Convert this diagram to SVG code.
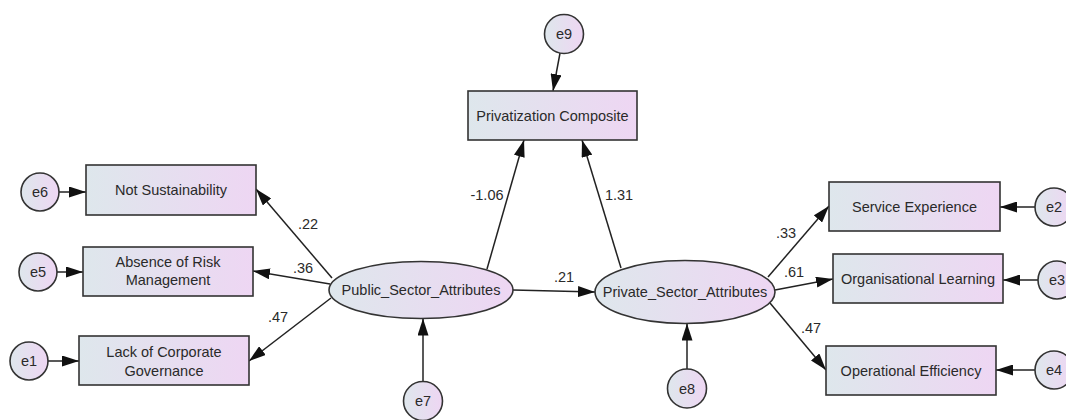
<svg xmlns="http://www.w3.org/2000/svg" width="1066" height="420" viewBox="0 0 1066 420">
<defs>
<linearGradient id="g" x1="0" y1="0" x2="1" y2="0">
<stop offset="0" stop-color="#dee7ec"/>
<stop offset="1" stop-color="#eed6f3"/>
</linearGradient>
<marker id="ah" viewBox="0 0 17 11" refX="17" refY="5.5" markerWidth="17" markerHeight="11" markerUnits="userSpaceOnUse" orient="auto">
<path d="M0,0 L17,5.5 L0,11 Z" fill="#111"/>
</marker>
</defs>
<style>
.n{fill:url(#g);stroke:#333;stroke-width:1.6}
.t{font-family:"Liberation Sans",Arial,sans-serif;font-size:14.5px;fill:#2a2a2a;text-anchor:middle}
.c line{stroke:#222;stroke-width:1.5;marker-end:url(#ah)}
</style>
<rect width="1066" height="420" fill="#fff"/>
<g class="c" id="connectors">
<line x1="59" y1="192" x2="86" y2="192"/>
<line x1="57" y1="272" x2="83" y2="272"/>
<line x1="48" y1="361" x2="79" y2="361"/>
<line x1="560" y1="53" x2="553" y2="91"/>
<line x1="423" y1="381" x2="423" y2="318.5"/>
<line x1="687" y1="369" x2="687" y2="323.5"/>
<line x1="1035" y1="207" x2="1000" y2="207"/>
<line x1="1038" y1="280" x2="1003" y2="280"/>
<line x1="1035" y1="370" x2="996" y2="370"/>
<line x1="332" y1="278" x2="256" y2="189"/>
<line x1="330" y1="284" x2="253" y2="271"/>
<line x1="331" y1="298" x2="249" y2="361"/>
<line x1="487" y1="269" x2="524" y2="140"/>
<line x1="621" y1="268" x2="582" y2="140"/>
<line x1="513" y1="290" x2="595" y2="292"/>
<line x1="768" y1="277" x2="829" y2="206"/>
<line x1="775" y1="290" x2="833" y2="279"/>
<line x1="770" y1="303" x2="826" y2="370"/>
</g>
<g id="labels" class="t">
<text x="308" y="229">.22</text>
<text x="303" y="273">.36</text>
<text x="278" y="322">.47</text>
<text x="487" y="200">-1.06</text>
<text x="619" y="200">1.31</text>
<text x="564" y="282">.21</text>
<text x="786" y="238">.33</text>
<text x="794" y="277">.61</text>
<text x="811" y="333">.47</text>
</g>
<g id="not_sustainability"><rect class="n" x="86" y="165" width="170" height="50"/><text class="t" x="171" y="195">Not Sustainability</text></g>
<g id="absence_risk"><rect class="n" x="83" y="247" width="170" height="49"/><text class="t" x="168" y="267">Absence of Risk</text><text class="t" x="168" y="285">Management</text></g>
<g id="lack_governance"><rect class="n" x="79" y="336" width="170" height="49"/><text class="t" x="164" y="357">Lack of Corporate</text><text class="t" x="164" y="376">Governance</text></g>
<g id="privatization"><rect class="n" x="468" y="91" width="169" height="49"/><text class="t" x="552.5" y="121">Privatization Composite</text></g>
<g id="service"><rect class="n" x="829" y="182" width="171" height="49"/><text class="t" x="914.5" y="212">Service Experience</text></g>
<g id="org_learning"><rect class="n" x="833" y="254" width="170" height="49"/><text class="t" x="918" y="284">Organisational Learning</text></g>
<g id="op_efficiency"><rect class="n" x="826" y="346" width="170" height="49"/><text class="t" x="911" y="376">Operational Efficiency</text></g>
<g id="public"><ellipse class="n" cx="421" cy="290" rx="92" ry="28.5"/><text class="t" x="421" y="295">Public_Sector_Attributes</text></g>
<g id="private"><ellipse class="n" cx="685" cy="292" rx="90" ry="31.5"/><text class="t" x="685" y="297">Private_Sector_Attributes</text></g>
<g id="e6"><circle class="n" cx="40" cy="192" r="19"/><text class="t" x="40" y="197">e6</text></g>
<g id="e5"><circle class="n" cx="38" cy="272" r="19"/><text class="t" x="38" y="277">e5</text></g>
<g id="e1"><circle class="n" cx="29" cy="361" r="19"/><text class="t" x="29" y="366">e1</text></g>
<g id="e9"><circle class="n" cx="564" cy="34" r="19.5"/><text class="t" x="564" y="39">e9</text></g>
<g id="e7"><circle class="n" cx="423" cy="401" r="19.5"/><text class="t" x="423" y="406">e7</text></g>
<g id="e8"><circle class="n" cx="687" cy="388.5" r="19.5"/><text class="t" x="687" y="393.5">e8</text></g>
<g id="e2"><circle class="n" cx="1054" cy="207" r="19"/><text class="t" x="1054" y="212">e2</text></g>
<g id="e3"><circle class="n" cx="1057" cy="280" r="19"/><text class="t" x="1057" y="285">e3</text></g>
<g id="e4"><circle class="n" cx="1054" cy="370" r="19"/><text class="t" x="1054" y="375">e4</text></g>
</svg>
